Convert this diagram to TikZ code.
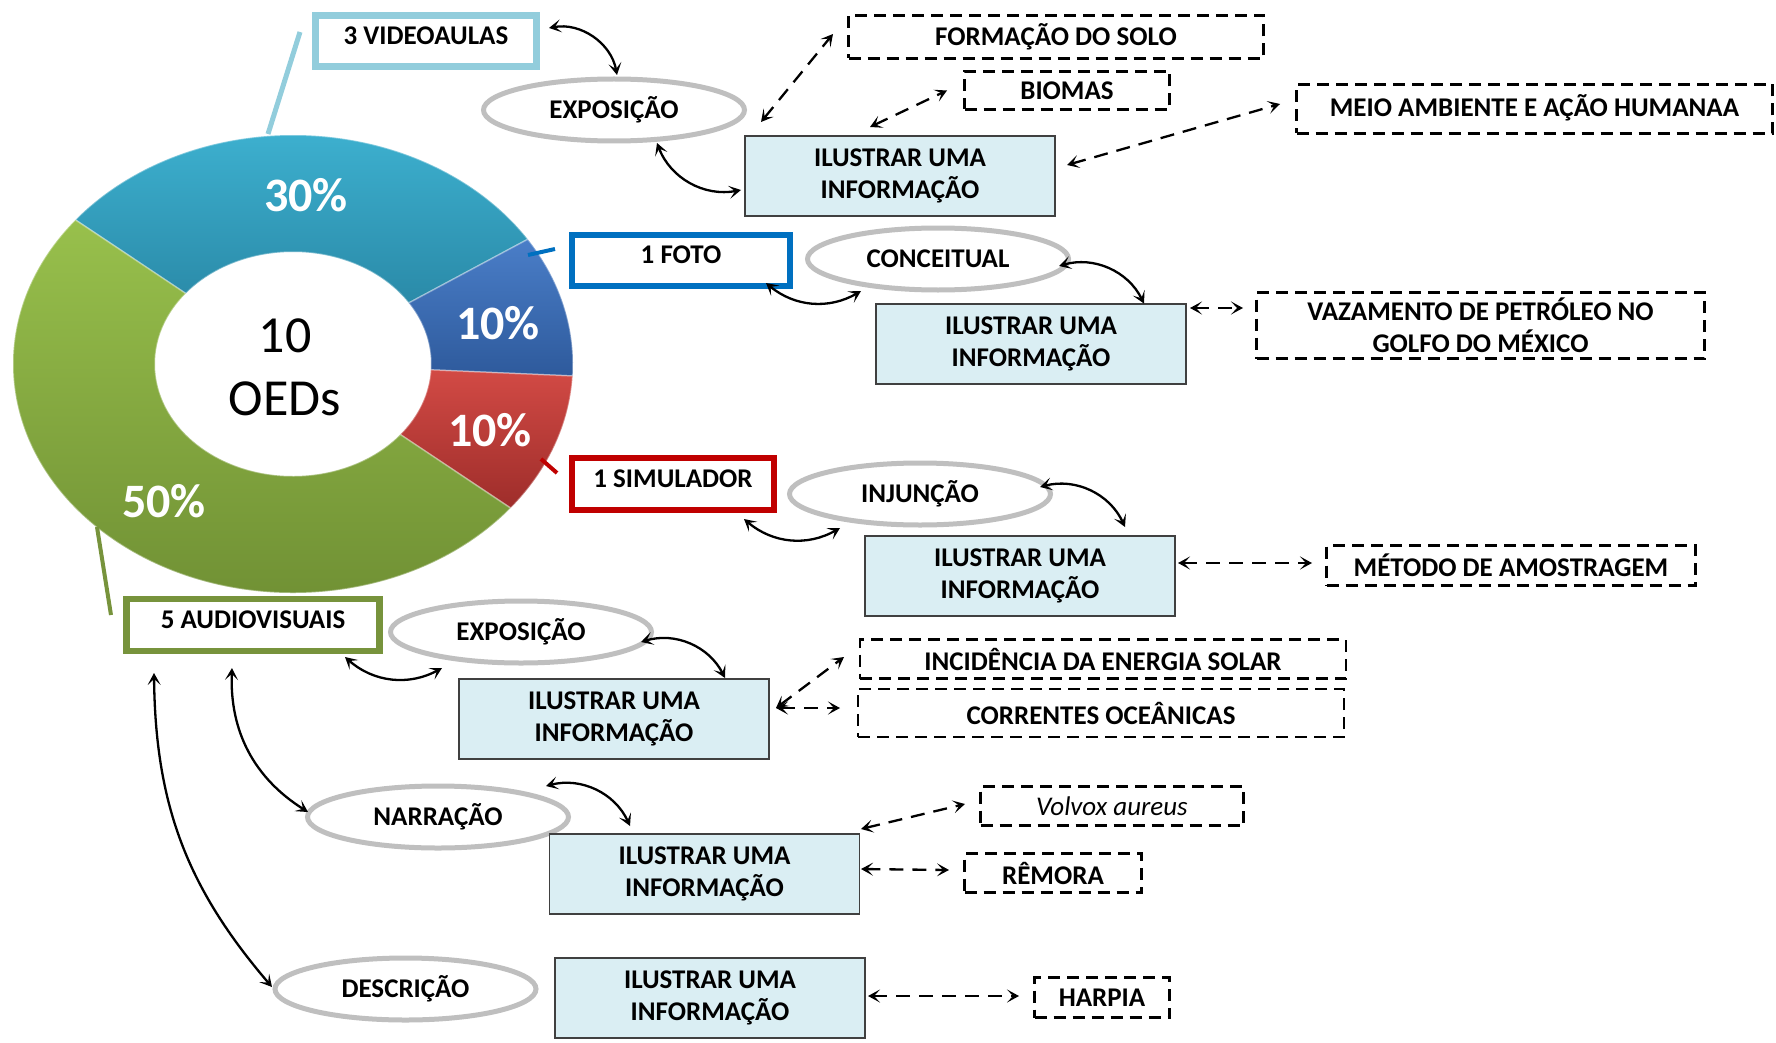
\documentclass[tikz,border=0pt]{standalone}
\usepackage{fontspec}
\setmainfont{Carlito}
\usetikzlibrary{arrows.meta,shapes.geometric,calc}
\definecolor{ilfill}{HTML}{DAEEF3}
\definecolor{vidc}{HTML}{92CDDC}
\definecolor{fotoc}{HTML}{0070C0}
\definecolor{simc}{HTML}{C00000}
\definecolor{audc}{HTML}{77933C}
\definecolor{ellc}{HTML}{BFBFBF}
\definecolor{tealT}{HTML}{3DB0CF}
\definecolor{tealB}{HTML}{2A8AA8}
\definecolor{blueT}{HTML}{4A7EC8}
\definecolor{blueB}{HTML}{2E5A9C}
\definecolor{redT}{HTML}{D24A45}
\definecolor{redB}{HTML}{9E2D2A}
\definecolor{grnT}{HTML}{98C04C}
\definecolor{grnB}{HTML}{6E8E33}
\newcommand\donutseg[4]{%
 \shade[top color=#3, bottom color=#4, draw=white, draw opacity=0.35, line width=1.5pt]
   ($(DC)+(#1:280pt and 229pt)$) arc[start angle=#1, end angle=#2, x radius=280pt, y radius=229pt]
   -- ($(DC)+(#2:138pt and 112pt)$) arc[start angle=#2, end angle=#1, x radius=138pt, y radius=112pt] -- cycle;}
\begin{document}
\begin{tikzpicture}[x=1pt,y=1pt,
  txt/.style={font=\fontsize{27}{32}\selectfont\bfseries, align=center, text=black},
  catbox/.style={txt, draw=#1, line width=6.5pt, fill=white, inner sep=0pt, text depth=11pt},
  ell/.style={txt, ellipse, draw=ellc, line width=5pt, fill=white, inner sep=0pt, minimum width=261pt, minimum height=62pt},
  ilbox/.style={txt, draw=black!75, line width=1.5pt, fill=ilfill, inner sep=0pt, minimum width=310pt, minimum height=80pt},
  dbox/.style={txt, draw=black, line width=2.6pt, dash pattern=on 12pt off 7pt, inner sep=0pt},
  pct/.style={font=\fontsize{48}{56}\selectfont\bfseries, text=white},
  tip/.tip={Stealth[length=12pt,width=13pt,inset=6pt]},
  conn/.style={tip-tip, line width=2.3pt, black},
  dconn/.style={conn, dash pattern=on 14pt off 9pt}
]
\useasboundingbox (0,0) rectangle (1776,-1043);

% donut chart
\coordinate (DC) at (293,-364);
\donutseg{33}{141}{tealT}{tealB}
\donutseg{-3}{33}{blueT}{blueB}
\donutseg{-39}{-3}{redT}{redB}
\donutseg{141}{321}{grnT}{grnB}
\node[pct] (p30) at (306,-195) {30\%};
\node[pct] (p10a) at (498,-323) {10\%};
\node[pct] (p10b) at (490,-430) {10\%};
\node[pct] (p50) at (164,-501) {50\%};
\node[font=\fontsize{52}{63}\selectfont, align=center] (ctr) at (285,-367.5) {10\\OEDs};

% category boxes
\node[catbox=vidc, minimum width=221pt, minimum height=51pt] (VID) at (426,-41) {3 VIDEOAULAS};
\node[catbox=fotoc, minimum width=218pt, minimum height=51pt] (FOTO) at (681,-260.5) {1 FOTO};
\node[catbox=simc, minimum width=202pt, minimum height=52pt] (SIM) at (673,-484) {1 SIMULADOR};
\node[catbox=audc, minimum width=253pt, minimum height=52pt] (AUD) at (253,-625) {5 AUDIOVISUAIS};

% leader lines
\draw[vidc, line width=5pt] ([shift={(-126,9)}]VID.center) -- (268,-134);
\draw[fotoc, line width=4pt] ([shift={(-153,5.5)}]FOTO.center) -- ([shift={(-126,11.5)}]FOTO.center);
\draw[simc, line width=4pt] ([shift={(-132,25)}]SIM.center) -- ([shift={(-116,11)}]SIM.center);
\draw[audc, line width=4pt] ([shift={(-156,98)}]AUD.center) -- ([shift={(-142,10)}]AUD.center);

% ellipses
\node[ell] (EXP1) at (614,-110) {EXPOSIÇÃO};
\node[ell] (CONC) at (938,-259) {CONCEITUAL};
\node[ell] (INJ) at (920,-494) {INJUNÇÃO};
\node[ell] (EXP2) at (521,-632) {EXPOSIÇÃO};
\node[ell] (NAR) at (438,-817) {NARRAÇÃO};
\node[ell] (DES) at (405.5,-989) {DESCRIÇÃO};

% ilustrar boxes
\node[ilbox] (IL1) at (900,-176) {ILUSTRAR UMA\\INFORMAÇÃO};
\node[ilbox] (IL2) at (1031,-344) {ILUSTRAR UMA\\INFORMAÇÃO};
\node[ilbox] (IL3) at (1020,-576) {ILUSTRAR UMA\\INFORMAÇÃO};
\node[ilbox] (IL4) at (614,-719) {ILUSTRAR UMA\\INFORMAÇÃO};
\node[ilbox] (IL5) at (704.5,-874) {ILUSTRAR UMA\\INFORMAÇÃO};
\node[ilbox] (IL6) at (710,-998) {ILUSTRAR UMA\\INFORMAÇÃO};

% dashed topic boxes
\node[dbox, minimum width=415pt, minimum height=43pt] (FORM) at (1056,-37) {FORMAÇÃO DO SOLO};
\node[dbox, minimum width=205pt, minimum height=38pt] (BIO) at (1067,-90.5) {BIOMAS};
\node[dbox, minimum width=476pt, minimum height=49pt, text depth=6pt] (MEIO) at (1534.5,-109) {MEIO AMBIENTE E AÇÃO HUMANAA};
\node[dbox, minimum width=448pt, minimum height=66pt] (VAZ) at (1480.5,-325.5) {VAZAMENTO DE PETRÓLEO NO\\GOLFO DO MÉXICO};
\node[dbox, minimum width=369pt, minimum height=40pt] (MET) at (1511,-565.5) {MÉTODO DE AMOSTRAGEM};
\node[dbox, minimum width=486pt, minimum height=39pt] (INC) at (1103,-659) {INCIDÊNCIA DA ENERGIA SOLAR};
\node[dbox, minimum width=486pt, minimum height=48pt] (COR) at (1101,-713) {CORRENTES OCEÂNICAS};
\node[dbox, minimum width=263pt, minimum height=39pt, font=\fontsize{27}{32}\selectfont\itshape] (VOL) at (1112,-806) {Volvox aureus};
\node[dbox, minimum width=177pt, minimum height=39pt] (REM) at (1053,-873) {RÊMORA};
\node[dbox, minimum width=135pt, minimum height=40pt] (HAR) at (1102,-997.5) {HARPIA};

% solid curved connectors
\draw[conn] ([shift={(123,13)}]VID.center) to[bend left=45] ([shift={(3,35)}]EXP1.center);
\draw[conn] ([shift={(43,-33)}]EXP1.center) to[bend right=40] ([shift={(-159,-14)}]IL1.center);
\draw[conn] ([shift={(85,-22.5)}]FOTO.center) to[bend right=35] ([shift={(-77,-32)}]CONC.center);
\draw[conn] ([shift={(121,-7)}]CONC.center) to[bend left=40] ([shift={(113,40.4)}]IL2.center);
\draw[conn] ([shift={(71,-35)}]SIM.center) to[bend right=35] ([shift={(-80,-34)}]INJ.center);
\draw[conn] ([shift={(120,7)}]INJ.center) to[bend left=40] ([shift={(105,49)}]IL3.center);
\draw[conn] ([shift={(92,-32)}]AUD.center) to[bend right=35] ([shift={(-79,-36)}]EXP2.center);
\draw[conn] ([shift={(120,-10)}]EXP2.center) to[bend left=40] ([shift={(111,41)}]IL4.center);
\draw[conn] ([shift={(-21,-43)}]AUD.center) to[bend right=30] ([shift={(-130,5)}]NAR.center);
\draw[conn] ([shift={(-99,-48)}]AUD.center) to[bend right=20] ([shift={(-133.5,2)}]DES.center);
\draw[conn] ([shift={(108,31)}]NAR.center) to[bend left=40] ([shift={(-74.5,48)}]IL5.center);

% dashed connectors
\draw[dconn] ([shift={(147,-12)}]EXP1.center) -- ([shift={(-223,3)}]FORM.center);
\draw[dconn] ([shift={(-30,49)}]IL1.center) -- ([shift={(-120,0)}]BIO.center);
\draw[dconn] ([shift={(167,11)}]IL1.center) -- ([shift={(-254.5,5)}]MEIO.center);
\draw[dconn] ([shift={(159,36)}]IL2.center) -- ([shift={(-237.5,17.5)}]VAZ.center);
\draw[dconn] ([shift={(158,13)}]IL3.center) -- ([shift={(-199,2.5)}]MET.center);
\draw[dconn] ([shift={(162,11)}]IL4.center) -- ([shift={(-259,2)}]INC.center);
\draw[dconn] ([shift={(162,11)}]IL4.center) -- ([shift={(-261,5)}]COR.center);
\draw[dconn] ([shift={(156.5,45)}]IL5.center) -- ([shift={(-147,2)}]VOL.center);
\draw[dconn] ([shift={(156.5,5)}]IL5.center) -- ([shift={(-104,3)}]REM.center);
\draw[dconn] ([shift={(158,2)}]IL6.center) -- ([shift={(-83,1.5)}]HAR.center);
\end{tikzpicture}
\end{document}
